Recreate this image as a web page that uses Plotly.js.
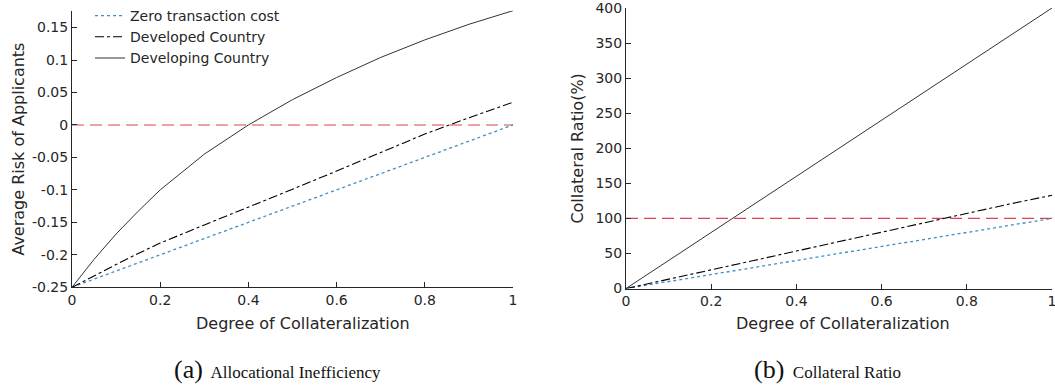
<!DOCTYPE html>
<html>
<head>
<meta charset="utf-8">
<script src="https://cdn.plot.ly/plotly-3.0.1.min.js"></script>
<style>html,body{margin:0;padding:0;background:#fff;}#chart{width:1055px;height:389px;}</style>
</head>
<body>
<div id="chart"></div>
<script>
// Degree of collateralization (shared x values)
const degree = [0, 0.05, 0.1, 0.15, 0.2, 0.3, 0.4, 0.5, 0.6, 0.7, 0.8, 0.9, 1];
// (a) Average risk of applicants
const riskZero       = [-0.25, -0.2375, -0.225, -0.2125, -0.2, -0.175, -0.15, -0.125, -0.1, -0.075, -0.05, -0.025, 0];
const riskDeveloped  = [-0.25, -0.232, -0.215, -0.198, -0.182, -0.154, -0.127, -0.099, -0.071, -0.042, -0.014, 0.011, 0.035];
const riskDeveloping = [-0.25, -0.207, -0.168, -0.133, -0.1, -0.045, 0, 0.039, 0.073, 0.104, 0.131, 0.155, 0.176];
// (b) Collateral ratio (%)
const ratioZero       = [0, 5, 10, 15, 20, 30, 40, 50, 60, 70, 80, 90, 100];
const ratioDeveloped  = [0, 6.5, 13, 19.7, 26.5, 40, 53.5, 67, 80.5, 94, 107.5, 120.5, 133];
const ratioDeveloping = [0, 20, 40, 60, 80, 120, 160, 200, 240, 280, 320, 360, 400];
// Reference lines
const thresholdX = [0, 1];
const riskThreshold = [0, 0];
const ratioThreshold = [100, 100];

const seriesNames = ['Zero transaction cost', 'Developed Country', 'Developing Country'];
const xTicks = [0, 0.2, 0.4, 0.6, 0.8, 1];
const xTickText = ['0', '0.2', '0.4', '0.6', '0.8', '1'];
const riskTicks = [-0.25, -0.2, -0.15, -0.1, -0.05, 0, 0.05, 0.1, 0.15];
const riskTickText = ['-0.25', '-0.2', '-0.15', '-0.1', '-0.05', '0', '0.05', '0.1', '0.15'];
const ratioTicks = [0, 50, 100, 150, 200, 250, 300, 350, 400];

const W = 1055, H = 389;
const ink = '#262626';
const font = {family: 'DejaVu Sans, sans-serif', size: 14, color: ink};
const titleFont = {family: 'DejaVu Sans, sans-serif', size: 16, color: ink};
const styles = [
  {color: '#3f8fc4', width: 1.3, dash: 'dot'},
  {color: '#000000', width: 1.1, dash: 'dashdot'},
  {color: '#333333', width: 1, dash: 'solid'}
];
const redLine = {color: '#e0404f', width: 1.1, dash: '12px,6px'};

const leftSeries = [riskZero, riskDeveloped, riskDeveloping];
const rightSeries = [ratioZero, ratioDeveloped, ratioDeveloping];

const traces = [];
traces.push({x: thresholdX, y: riskThreshold, xaxis: 'x', yaxis: 'y', mode: 'lines', line: redLine, showlegend: false, hoverinfo: 'skip'});
traces.push({x: thresholdX, y: ratioThreshold, xaxis: 'x2', yaxis: 'y2', mode: 'lines', line: redLine, showlegend: false, hoverinfo: 'skip'});
leftSeries.forEach((s, i) => traces.push({x: degree, y: s, xaxis: 'x', yaxis: 'y', mode: 'lines', name: seriesNames[i], line: styles[i], legendgroup: 'g' + i}));
rightSeries.forEach((s, i) => traces.push({x: degree, y: s, xaxis: 'x2', yaxis: 'y2', mode: 'lines', name: seriesNames[i], line: styles[i], showlegend: false, legendgroup: 'g' + i}));

function px(x) { return x / W; }
function py(y) { return 1 - y / H; }

const axisCommon = {
  showline: true, linecolor: ink, linewidth: 1, mirror: false,
  showgrid: false, zeroline: false,
  ticks: 'inside', ticklen: 5, tickwidth: 1, tickcolor: ink,
  tickfont: font, fixedrange: true, ticklabeloverflow: 'allow'
};

const captionFont = {family: 'Liberation Serif, serif', size: 17, color: '#111111'};

const layout = {
  width: W, height: H,
  margin: {l: 0, r: 0, t: 0, b: 0},
  paper_bgcolor: '#ffffff', plot_bgcolor: '#ffffff',
  font: font,
  showlegend: true,
  legend: {x: px(90), y: py(-1.5), xanchor: 'left', yanchor: 'top', bgcolor: 'rgba(0,0,0,0)', borderwidth: 0, font: font, tracegroupgap: 0, itemwidth: 30},
  xaxis: Object.assign({}, axisCommon, {domain: [px(72), px(513)], range: [0, 1], tickvals: xTicks, ticktext: xTickText, anchor: 'y'}),
  yaxis: Object.assign({}, axisCommon, {domain: [py(287), py(9.7)], range: [-0.25, 0.176], tickvals: riskTicks, ticktext: riskTickText, anchor: 'x'}),
  xaxis2: Object.assign({}, axisCommon, {domain: [px(626), px(1052)], range: [0, 1], tickvals: xTicks, ticktext: xTickText, anchor: 'y2'}),
  yaxis2: Object.assign({}, axisCommon, {domain: [py(288.3), py(7)], range: [0, 400], tickvals: ratioTicks, anchor: 'x2'}),
  annotations: [
    {text: 'Degree of Collateralization', xref: 'paper', yref: 'paper', x: px(303), y: py(323), xanchor: 'center', yanchor: 'middle', showarrow: false, font: titleFont},
    {text: 'Degree of Collateralization', xref: 'paper', yref: 'paper', x: px(843), y: py(323), xanchor: 'center', yanchor: 'middle', showarrow: false, font: titleFont},
    {text: 'Average Risk of Applicants', xref: 'paper', yref: 'paper', x: px(19), y: py(149), xanchor: 'center', yanchor: 'middle', textangle: -90, showarrow: false, font: titleFont},
    {text: 'Collateral Ratio(%)', xref: 'paper', yref: 'paper', x: px(578), y: py(148), xanchor: 'center', yanchor: 'middle', textangle: -90, showarrow: false, font: titleFont},
    {text: '<span style="font-size:26px">(a)</span>\u00a0 Allocational Inefficiency', xref: 'paper', yref: 'paper', x: px(277.5), y: py(369), xanchor: 'center', yanchor: 'middle', showarrow: false, font: captionFont},
    {text: '<span style="font-size:26px">(b)</span>\u00a0 Collateral Ratio', xref: 'paper', yref: 'paper', x: px(827), y: py(369), xanchor: 'center', yanchor: 'middle', showarrow: false, font: captionFont}
  ]
};

Plotly.newPlot('chart', traces, layout, {displayModeBar: false, staticPlot: true});
</script>
</body>
</html>
